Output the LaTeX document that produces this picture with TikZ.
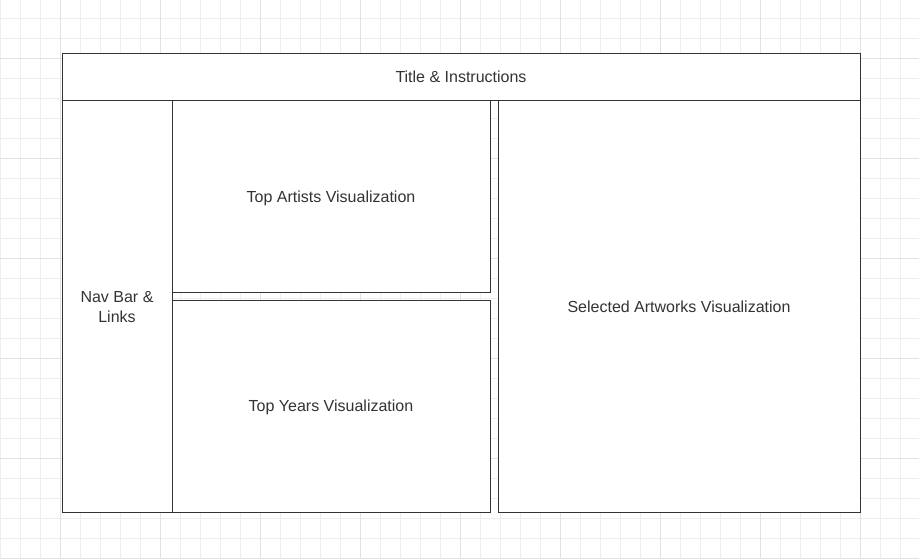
\documentclass[tikz,border=0pt]{standalone}
\usepackage{fontspec}
\setmainfont{Liberation Sans}
\definecolor{gridminor}{HTML}{EEEEEE}
\definecolor{gridmajor}{HTML}{E2E2E2}
\definecolor{ink}{HTML}{333333}
\begin{document}
\begin{tikzpicture}[x=0.75pt,y=-0.75pt,
  panel/.style={draw=ink,line width=0.75pt,fill=white},
  lbl/.style={text=ink,font=\fontsize{12}{14.5}\selectfont,align=center}]
\useasboundingbox (0,0) rectangle (919,558);
\fill[white] (0,0) rectangle (919,558);
\foreach \x in {0,20,...,919} \draw[gridminor,line width=0.75pt] (\x,0) -- (\x,558);
\foreach \y in {-2,18,...,558} \draw[gridminor,line width=0.75pt] (0,\y) -- (919,\y);
\foreach \x in {60,160,...,919} \draw[gridmajor,line width=0.75pt] (\x,0) -- (\x,558);
\foreach \y in {58,158,...,558} \draw[gridmajor,line width=0.75pt] (0,\y) -- (919,\y);
\draw[panel] (62,53) rectangle (860,100);
\draw[panel] (62,100) rectangle (172,512);
\draw[panel] (172,100) rectangle (490,292);
\draw[panel] (172,300) rectangle (490,512);
\draw[panel] (498,100) rectangle (860,512);
\node[lbl] (title) at (461,76.5) {Title \& Instructions};
\node[lbl] (nav) at (117,307) {Nav Bar \&\\Links};
\node[lbl] (artists) at (331,198) {Top Artists Visualization};
\node[lbl] (years) at (331,407) {Top Years Visualization};
\node[lbl] (sel) at (679,306.5) {Selected Artworks Visualization};
\end{tikzpicture}
\end{document}
